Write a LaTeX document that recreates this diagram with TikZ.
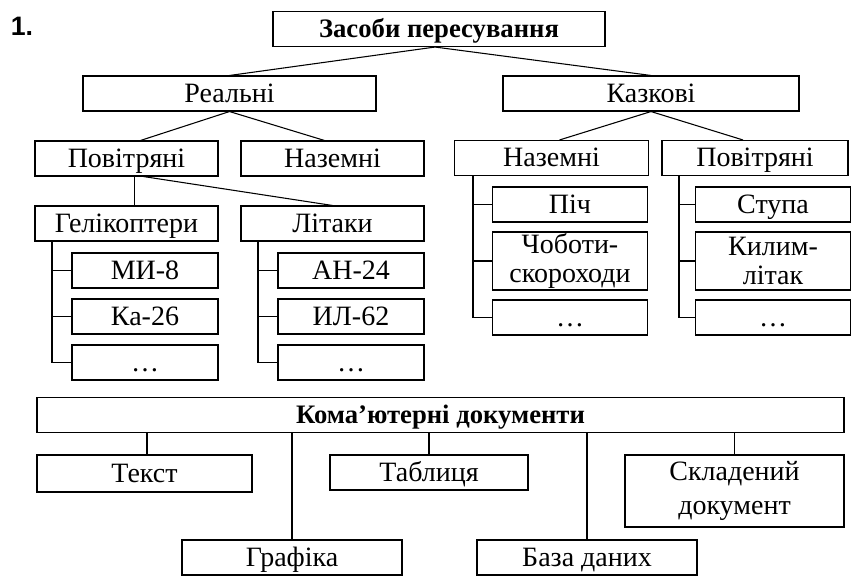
\documentclass[tikz,border=0pt]{standalone}
\usepackage{fontspec}
\setmainfont{Liberation Serif}
\setsansfont{Liberation Sans}
\usepackage{tikz}
\usetikzlibrary{positioning, calc}

\begin{document}
\begin{tikzpicture}[
    x=0.75pt, y=-0.75pt,
    box/.style={draw, thick, minimum height=26.25pt, inner sep=0pt, align=center, text height=13pt, text depth=0pt, font=\fontsize{21}{23}\selectfont},
    two/.style={minimum height=43.5pt, text height=, text depth=, font=\fontsize{21}{22}\selectfont},
    wbox/.style={box, minimum width=137.25pt},
    sbox/.style={box, minimum width=109.5pt},
    kbox/.style={box, minimum width=116pt},
    line/.style={thick}
]
    \useasboundingbox (0,0) rectangle (857,583);
    \node[font=\sffamily\bfseries\fontsize{20}{22}\selectfont] (num) at (22,26) {1.};

    % Tree of vehicles
    \node[box, minimum width=249pt, font=\bfseries\fontsize{20}{22}\selectfont] (root) at (439,29) {Засоби пересування};
    \node[box, minimum width=219.75pt] (real) at (229.5,93.5) {Реальні};
    \node[box, minimum width=222pt] (fairy) at (651,93.5) {Казкові};

    % Real ones
    \node[wbox] (air) at (126.5,158.5) {Повітряні};
    \node[wbox] (ground) at (332.5,158.5) {Наземні};
    \node[wbox] (heli) at (126.5,223.5) {Гелікоптери};
    \node[wbox] (plane) at (332.5,223.5) {Літаки};
    \node[sbox] (mi) at (145,270.5) {МИ-8};
    \node[sbox] (ka) at (145,316.5) {Ка-26};
    \node[sbox] (hdots) at (145,362.5) {\dots};
    \node[sbox] (an) at (351,270.5) {АН-24};
    \node[sbox] (il) at (351,316.5) {ИЛ-62};
    \node[sbox] (pdots) at (351,362.5) {\dots};

    % Fairy ones
    \node[box, minimum width=145pt] (fground) at (551.5,158) {Наземні};
    \node[box, minimum width=139.5pt] (fair) at (755,158) {Повітряні};
    \node[kbox] (oven) at (570,204.5) {Піч};
    \node[kbox, two] (boots) at (570,261) {Чоботи-\\скороходи};
    \node[kbox] (fdots) at (570,317.5) {\dots};
    \node[kbox] (mortar) at (773,204.5) {Ступа};
    \node[kbox, two] (carpet) at (773,261) {Килим-\\літак};
    \node[kbox] (adots) at (773,317.5) {\dots};

    \draw[line] ($(root.south)+(-4,0)$) -- (real.north);
    \draw[line] ($(root.south)+(-4,0)$) -- (fairy.north);
    \draw[line] (real.south) -- ($(air.north)+(14,0)$);
    \draw[line] (real.south) -- ($(ground.north)+(-8,0)$);
    \draw[line] ($(air.south)+(8,0)$) -- ($(heli.north)+(8,0)$);
    \draw[line] ($(air.south)+(17,0)$) -- (plane.north);
    \draw[line] (fairy.south) -- ($(fground.north)+(8,0)$);
    \draw[line] (fairy.south) -- ($(fair.north)+(-12,0)$);

    % Brackets
    \foreach \pa/\xx/\kids/\last in {heli/52/{mi,ka}/hdots, plane/258/{an,il}/pdots, fground/473/{oven,boots}/fdots, fair/679/{mortar,carpet}/adots} {
        \draw[line] (\xx,0 |- \pa.south) -- (\xx,0 |- \last.west) -- (\last.west);
        \foreach \k in \kids
            \draw[line] (\xx,0 |- \k.west) -- (\k.west);
    }

    % Computer documents
    \node[box, minimum width=605.25pt, font=\bfseries\fontsize{20}{22}\selectfont] (docs) at (440.5,415) {Кома’ютерні документи};
    \node[box, minimum width=161.25pt, minimum height=27.75pt] (text) at (144.5,473.5) {Текст};
    \node[box, minimum width=148.5pt] (table) at (429,472.5) {Таблиця};
    \node[box, two, minimum width=164.25pt, minimum height=54pt, font=\fontsize{21}{26}\selectfont] (compound) at (734.5,491) {Складений\\документ};
    \node[box, minimum width=165pt] (graph) at (292,557.5) {Графіка};
    \node[box, minimum width=165pt] (db) at (587,557.5) {База даних};

    \draw[line] (147,0 |- docs.south) -- (147,0 |- text.north);
    \draw[line] (graph.north |- docs.south) -- (graph.north);
    \draw[line] (table.north |- docs.south) -- (table.north);
    \draw[line] (db.north |- docs.south) -- (db.north);
    \draw[line] (compound.north |- docs.south) -- (compound.north);
\end{tikzpicture}
\end{document}
